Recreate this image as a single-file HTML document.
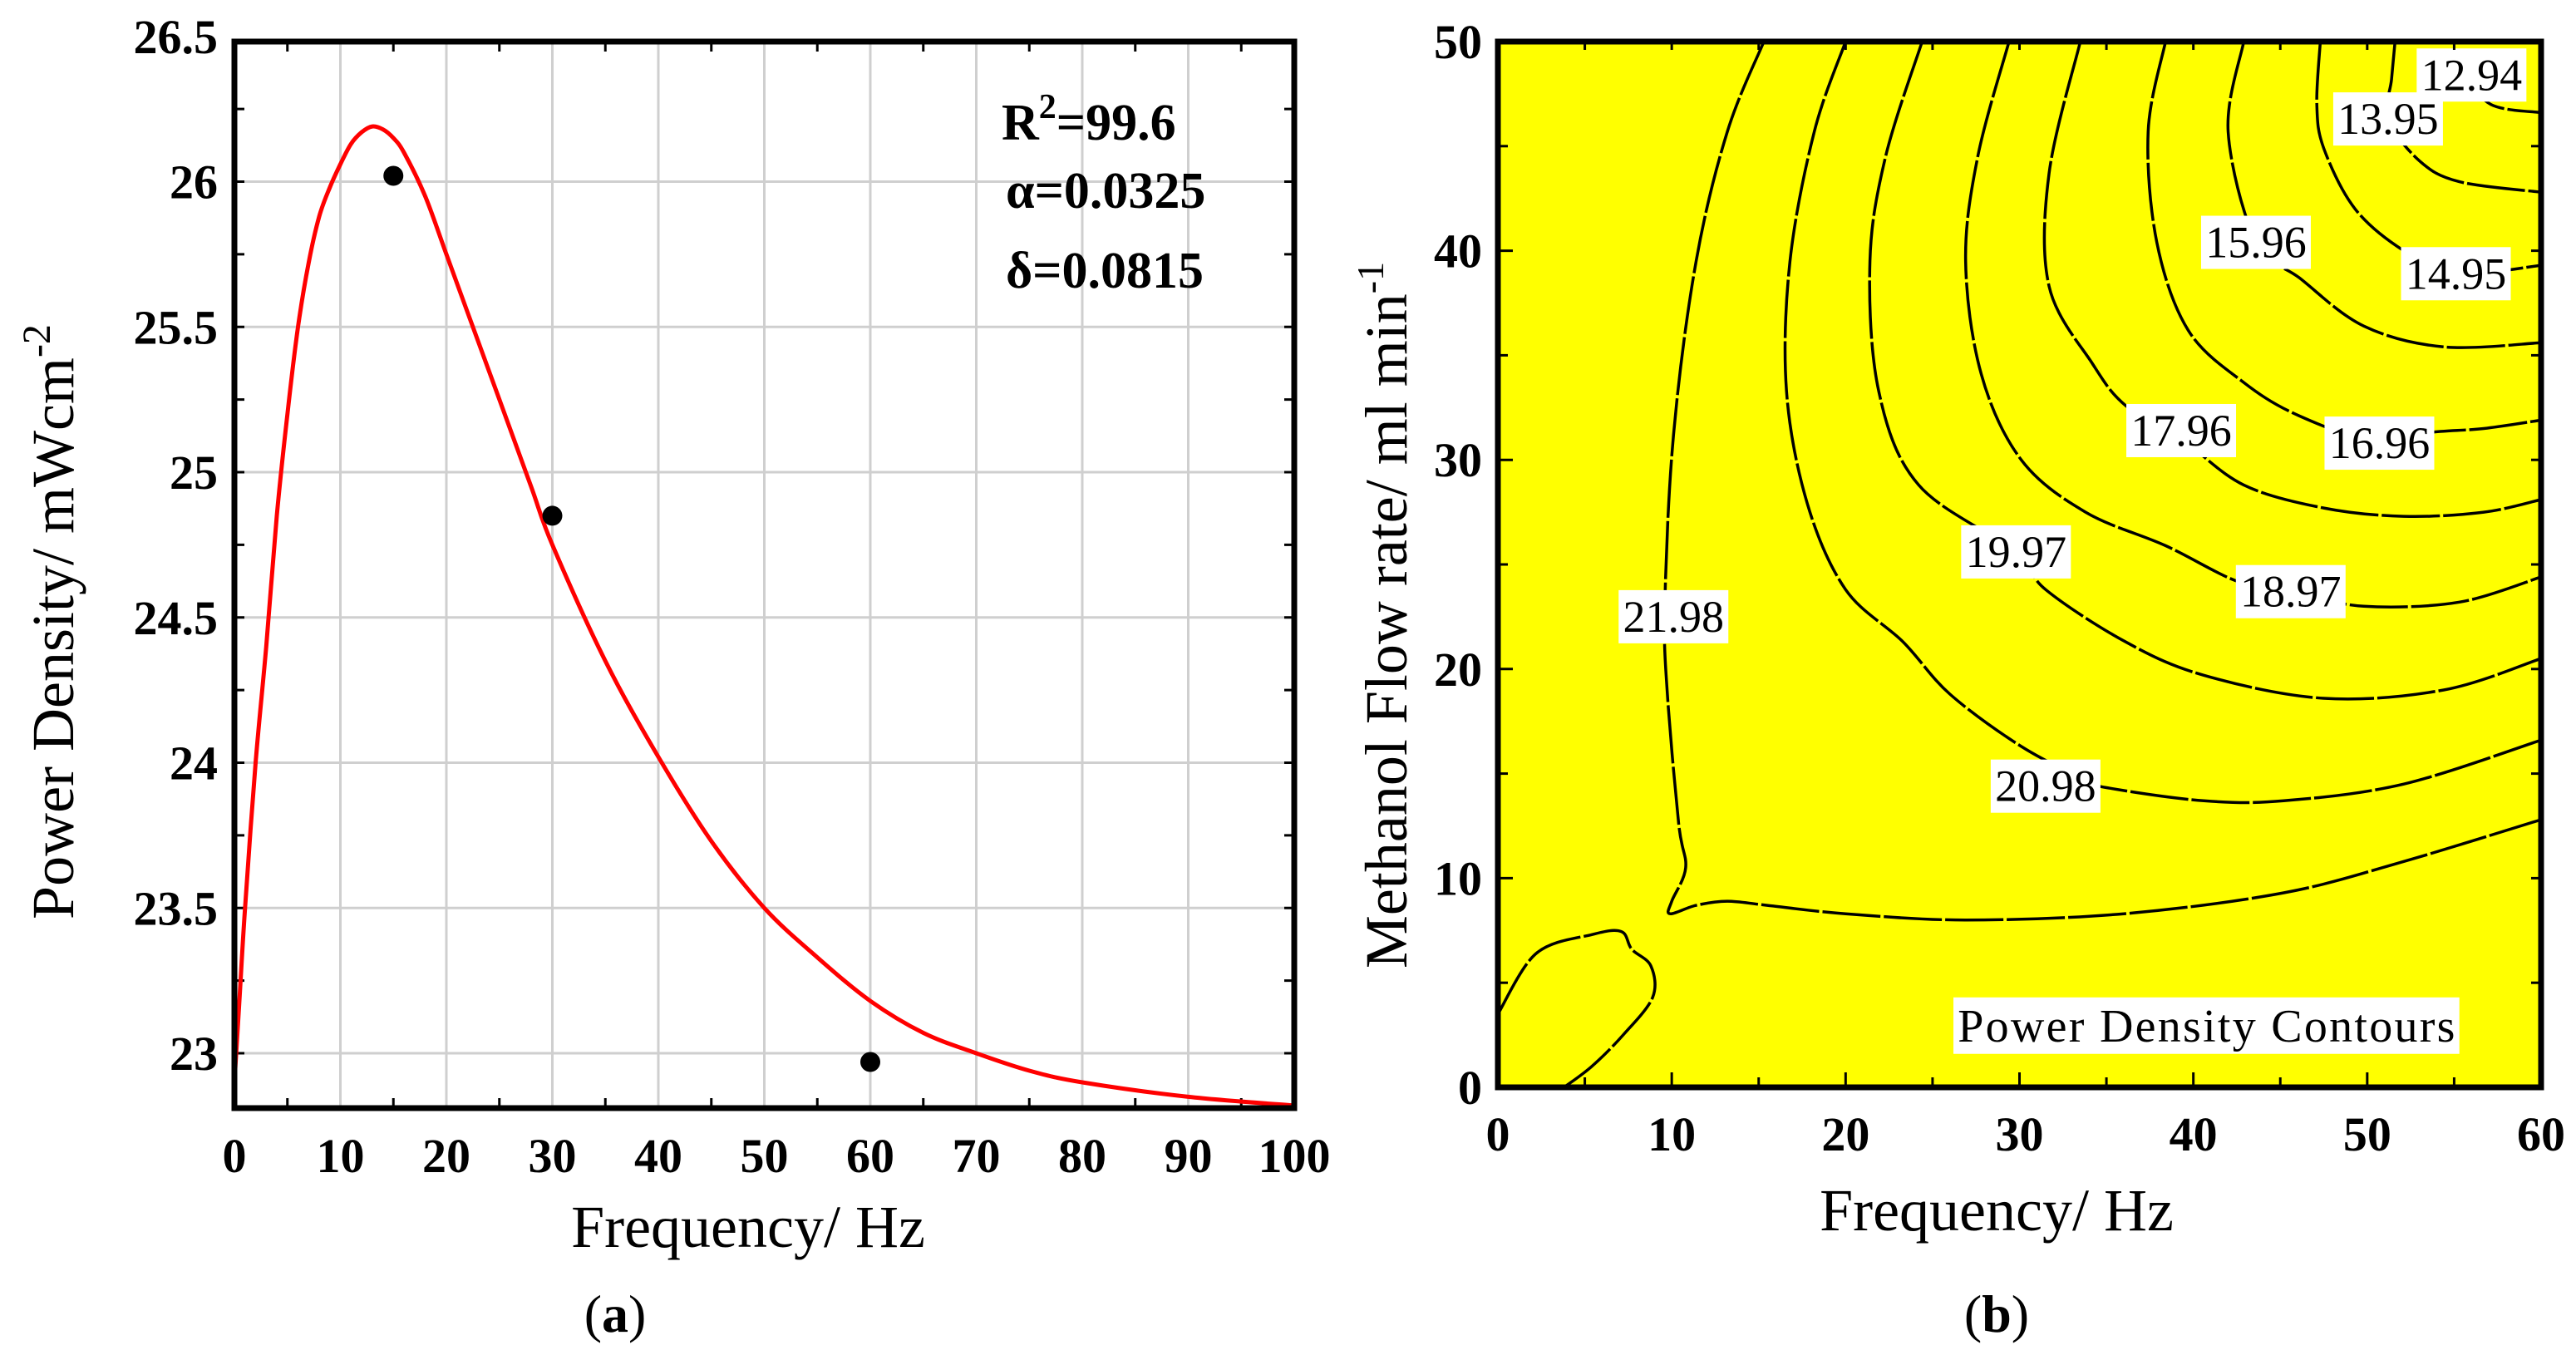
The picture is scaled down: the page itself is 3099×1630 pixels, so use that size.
<!DOCTYPE html>
<html><head><meta charset="utf-8">
<style>
html,body{margin:0;padding:0;background:#fff;}
svg{display:block;}
text{font-family:"Liberation Serif","Times New Roman",serif;fill:#000;}
.tick{font-weight:bold;font-size:58px;}
.title{font-size:72px;}
</style></head>
<body>
<svg id="fig" width="3099" height="1630" viewBox="0 0 3099 1630" xmlns="http://www.w3.org/2000/svg">
  <g id="panelA"></g>
  <g id="panelB"></g>
</svg>
<script>
// ---------- Panel (a) data ----------
const aXTicks = [0,10,20,30,40,50,60,70,80,90,100];
const aYTicks = [23,23.5,24,24.5,25,25.5,26,26.5];
const aYTickLabels = ["23","23.5","24","24.5","25","25.5","26","26.5"];
const fitX = [0,0.5,1,2,3,4,5,6,7,8,9,10,11,12,13,14,15,16,18,20,22,25,28,30,35,40,45,50,55,60,65,70,75,80,90,100];
const fitY = [22.9,23.2,23.5,24.0,24.4,24.85,25.2,25.5,25.72,25.88,25.98,26.06,26.13,26.17,26.19,26.18,26.15,26.1,25.95,25.75,25.55,25.25,24.95,24.75,24.35,24.02,23.73,23.5,23.33,23.18,23.07,23.0,22.94,22.9,22.85,22.82];
const ptX = [15,30,60];
const ptY = [26.02,24.85,22.97];

// ---------- Panel (b) data ----------
const bXTicks = [0,10,20,30,40,50,60];
const bYTicks = [0,10,20,30,40,50];
const cEllipse = [[0,3.5],[2.2,6.4],[5.4,7.3],[7.1,7.45],[7.7,6.6],[8.8,5.8],[8.9,4.3],[7.2,2.5],[5.4,1.0],[3.8,0]];
const c2198 = [[15.3,50],[13.2,45.7],[11.4,39.5],[10.1,31.2],[9.6,23],[9.75,18.8],[10.4,12.6],[10.8,10.5],[10.0,8.9],[9.9,8.3],[11.4,8.7],[13.2,8.9],[15.5,8.7],[20,8.3],[26.9,8.0],[36,8.3],[45.2,9.3],[52.1,10.8],[60,12.8]];
const c2098 = [[20,50],[18.2,45.7],[16.8,39.5],[16.6,33.3],[17.8,27.9],[20,23.8],[23.3,21.3],[26,18.8],[30.1,16.3],[33.8,14.7],[35.2,14.3],[40.6,13.7],[45.2,13.7],[52.1,14.5],[60,16.6]];
const c1997 = [[24.4,50],[22.3,44.5],[21.4,39.5],[21.9,33.3],[24.2,28.8],[29.8,25.6],[31.5,23.8],[36.1,21.3],[40.6,19.7],[47.5,18.6],[54.4,19.0],[60,20.5]];
const c1897 = [[29.4,50],[27.6,44.5],[26.9,39.5],[27.8,34.1],[30.1,30],[33.8,27.5],[38.4,25.9],[42.5,24.2],[45.6,23.7],[49.8,23],[55.3,23.2],[60,24.4]];
const c1796 = [[33.5,50],[31.7,43.7],[31.7,38.3],[34.2,34.6],[36.1,32.6],[39.3,31.0],[42.9,28.8],[47.5,27.7],[52.1,27.3],[56.7,27.5],[60,28.1]];
const c1696 = [[38.4,50],[37.4,45.7],[37.9,40.4],[39.7,36.2],[42.9,33.7],[46.1,32.1],[50.7,30.8],[53.5,31.3],[56.7,31.5],[60,31.9]];
const c1596 = [[42.9,50],[42,45.7],[43.6,40.4],[46.1,38.7],[49.8,36.4],[54.4,35.4],[60,35.6]];
const c1495 = [[47.3,50],[47.1,47],[47.5,44.9],[49.3,42],[52.1,40],[55.1,38.9],[60,39.3]];
const c1395 = [[51.6,50],[51.4,48.2],[51.2,46.3],[53,44.3],[55.3,43.3],[60,42.8]];
const c1294 = [[55.5,48.6],[57.1,47],[60,46.6]];
const labelText = ["21.98","20.98","19.97","18.97","17.96","16.96","15.96","14.95","13.95","12.94"];
const labelX = [10.1,31.5,29.8,45.6,39.3,50.7,43.6,55.1,51.2,56.0];
const labelY = [22.5,14.4,25.6,23.7,31.4,30.8,40.4,38.9,46.3,48.4];

const NS = "http://www.w3.org/2000/svg";
function mk(parent, tag, attrs, txt){
  const e = document.createElementNS(NS, tag);
  for (const k in attrs) e.setAttribute(k, attrs[k]);
  if (txt !== undefined) e.textContent = txt;
  parent.appendChild(e);
  return e;
}
function smooth(pts){
  let d = "M" + pts[0][0].toFixed(1) + "," + pts[0][1].toFixed(1);
  for (let i = 0; i < pts.length - 1; i++){
    const p0 = pts[i-1] || pts[i], p1 = pts[i], p2 = pts[i+1], p3 = pts[i+2] || p2;
    const c1x = p1[0] + (p2[0]-p0[0])/6, c1y = p1[1] + (p2[1]-p0[1])/6;
    const c2x = p2[0] - (p3[0]-p1[0])/6, c2y = p2[1] - (p3[1]-p1[1])/6;
    d += " C" + c1x.toFixed(1) + "," + c1y.toFixed(1) + " " + c2x.toFixed(1) + "," + c2y.toFixed(1) + " " + p2[0].toFixed(1) + "," + p2[1].toFixed(1);
  }
  return d;
}

// ---------- Panel (a) ----------
const A = document.getElementById("panelA");
const aL = 282, aR = 1557, aT = 50, aB = 1333;
const ax = v => aL + (v - 0) / 100 * (aR - aL);
const ay = v => 1267 - (v - 23) * 349.5;

const gridA = mk(A, "g", {});


aXTicks.forEach(v => { if (v > 0 && v < 100) mk(gridA, "line", {x1:ax(v), x2:ax(v), y1:aT, y2:aB, stroke:"#cfcfcf", "stroke-width":3}); });
aYTicks.forEach(v => { if (v < 26.5) mk(gridA, "line", {x1:aL, x2:aR, y1:ay(v), y2:ay(v), stroke:"#cfcfcf", "stroke-width":3}); });

const tkA = mk(A, "g", {stroke:"#000", "stroke-width":3});


for (let v = 5; v < 100; v += 10){
  mk(tkA, "line", {x1:ax(v), x2:ax(v), y1:aB, y2:aB-12});
  mk(tkA, "line", {x1:ax(v), x2:ax(v), y1:aT, y2:aT+12});
}
for (let v = 23; v < 26.5; v += 0.25){
  mk(tkA, "line", {x1:aL, x2:aL+12, y1:ay(v), y2:ay(v)});
  mk(tkA, "line", {x1:aR, x2:aR-12, y1:ay(v), y2:ay(v)});
}

const fitPts = fitX.map((x, i) => [ax(x), ay(fitY[i])]);
const fit = mk(A, "path", {d:smooth(fitPts), fill:"none", stroke:"#ff0000", "stroke-width":5});



ptX.forEach((x, i) => {
  const c = mk(A, "circle", {cx:ax(x), cy:ay(ptY[i]), r:12, fill:"#000"});
  
  
});

const frameA = mk(A, "rect", {x:aL, y:aT, width:aR-aL, height:aB-aT, fill:"none", stroke:"#000", "stroke-width":7});



aXTicks.forEach(v => {
  const t = mk(A, "text", {x:ax(v), y:1410, "text-anchor":"middle", class:"tick"}, String(v));
  
  
});
aYTicks.forEach((v, i) => {
  const t = mk(A, "text", {x:262, y:ay(v)+20, "text-anchor":"end", class:"tick"}, aYTickLabels[i]);
  
  
});
</script>
<script>
(function(){
  const A = document.getElementById("panelA");
  A.insertAdjacentHTML("beforeend",
    '<text class="title" x="900" y="1500" text-anchor="middle" font-size="74">Frequency/ Hz</text>' +
    '<text class="title" font-size="74" transform="translate(88,748) rotate(-90)" text-anchor="middle">Power Density/ mWcm<tspan dy="-28" font-size="48">-2</tspan></text>' +
    '<text x="1205" y="168" font-size="62" font-weight="bold">R<tspan dy="-26" font-size="42">2</tspan><tspan dy="26">=99.6</tspan></text>' +
    '<text x="1210" y="250" font-size="62" font-weight="bold">α=0.0325</text>' +
    '<text x="1210" y="346" font-size="62" font-weight="bold">δ=0.0815</text>' +
    '<text x="740" y="1602" text-anchor="middle" font-size="64">(<tspan font-weight="bold">a</tspan>)</text>');
})();
</script>
<script>
(function(){
const NS = "http://www.w3.org/2000/svg";
function mk(parent, tag, attrs, txt){
  const e = document.createElementNS(NS, tag);
  for (const k in attrs) e.setAttribute(k, attrs[k]);
  if (txt !== undefined) e.textContent = txt;
  parent.appendChild(e);
  return e;
}
const B = document.getElementById("panelB");
const bL = 1802, bR = 3057, bT = 50, bB = 1308;
const bx = v => bL + v / 60 * (bR - bL);
const by = v => bB - v / 50 * (bB - bT);

const bg = mk(B, "rect", {x:bL, y:bT, width:bR-bL, height:bB-bT, fill:"#ffff00"});



const contours = [cEllipse, c2198, c2098, c1997, c1897, c1796, c1696, c1596, c1495, c1395, c1294];
contours.forEach(c => {
  const pts = c.map(p => [bx(p[0]), by(p[1])]);
  const p = mk(B, "path", {d:smooth(pts), fill:"none", stroke:"#000", "stroke-width":3.5, "stroke-dasharray":"70 4"});
  
  
});

labelText.forEach((t, i) => {
  const cx = bx(labelX[i]), cy = by(labelY[i]);
  const g = mk(B, "g", {});
  
  
  mk(g, "rect", {x:cx-66, y:cy-32, width:132, height:64, fill:"#fff"});
  mk(g, "text", {x:cx, y:cy+18, "text-anchor":"middle", "font-size":54}, t);
});

const lg = mk(B, "g", {});


mk(lg, "rect", {x:bx(26.2), y:by(4.3), width:bx(55.3)-bx(26.2), height:by(1.6)-by(4.3), fill:"#fff"});
mk(lg, "text", {x:(bx(26.2)+bx(55.3))/2, y:by(2.95)+19, "text-anchor":"middle", "font-size":56, textLength:bx(55.1)-bx(26.5)}, "Power Density Contours");

const tk = mk(B, "g", {stroke:"#000", "stroke-width":3});


for (let v = 5; v < 60; v += 5){
  mk(tk, "line", {x1:bx(v), x2:bx(v), y1:bB, y2:bB-(v%10===0?18:12)});
  mk(tk, "line", {x1:bx(v), x2:bx(v), y1:bT, y2:bT+10});
}
for (let v = 5; v < 50; v += 5){
  mk(tk, "line", {x1:bL, x2:bL+(v%10===0?18:12), y1:by(v), y2:by(v)});
  mk(tk, "line", {x1:bR, x2:bR-12, y1:by(v), y2:by(v)});
}
const frame = mk(B, "rect", {x:bL, y:bT, width:bR-bL, height:bB-bT, fill:"none", stroke:"#000", "stroke-width":7});



bXTicks.forEach(v => {
  const t = mk(B, "text", {x:bx(v), y:1384, "text-anchor":"middle", class:"tick"}, String(v));
  
  
});
bYTicks.forEach(v => {
  const t = mk(B, "text", {x:1783, y:by(v)+20, "text-anchor":"end", class:"tick"}, String(v));
  
  
});
B.insertAdjacentHTML("beforeend",
  '<text class="title" x="2402" y="1480" text-anchor="middle" font-size="74">Frequency/ Hz</text>' +
  '<text class="title" font-size="70" transform="translate(1692,740) rotate(-90)" text-anchor="middle">Methanol Flow rate/ ml min<tspan dy="-28" font-size="46">-1</tspan></text>' +
  '<text x="2402" y="1602" text-anchor="middle" font-size="64">(<tspan font-weight="bold">b</tspan>)</text>');
})();
</script>
</body></html>
